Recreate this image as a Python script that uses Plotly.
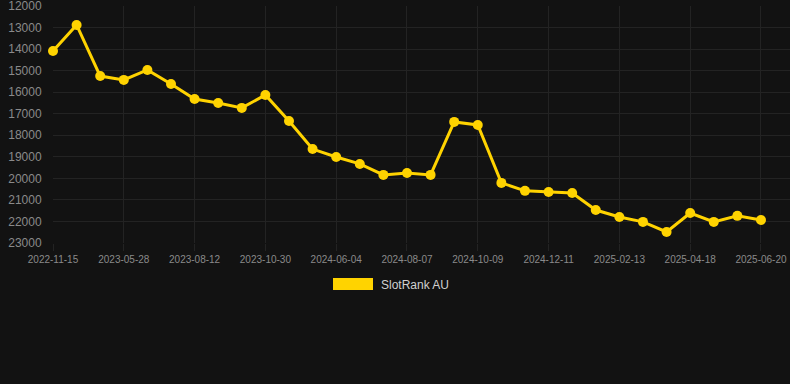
import plotly.graph_objects as go

series_name = "SlotRank AU"
dates = [
    "2022-11-15", "2023-01-20", "2023-03-25",
    "2023-05-28", "2023-06-22", "2023-07-18",
    "2023-08-12", "2023-09-08", "2023-10-04",
    "2023-10-30", "2024-02-10", "2024-04-20",
    "2024-06-04", "2024-06-25", "2024-07-16",
    "2024-08-07", "2024-08-28", "2024-09-18",
    "2024-10-09", "2024-10-30", "2024-11-20",
    "2024-12-11", "2025-01-01", "2025-01-23",
    "2025-02-13", "2025-03-06", "2025-03-28",
    "2025-04-18", "2025-05-09", "2025-05-30",
    "2025-06-20",
]
ranks = [
    14090, 12880, 15250, 15430, 14970, 15620, 16320, 16500, 16730, 16130,
    17340, 18640, 19010, 19330, 19840, 19750, 19840, 17380, 17520, 20210,
    20580, 20630, 20680, 21470, 21790, 22020, 22490, 21610, 22020, 21740,
    21930,
]
tick_dates = dates[::3]
y_ticks = list(range(12000, 23001, 1000))
y_labels = [str(v) for v in y_ticks]

W, H = 790, 384
L, R, T, B = 53, 0, 6, 141
pw, ph = W - L - R, H - T - B

def px(x):
    return (x - L) / pw

def py(y):
    return (H - B - y) / ph

gold = "#FFD300"
fig = go.Figure()
fig.add_trace(go.Scatter(
    x=dates, y=ranks, mode="lines+markers", name=series_name,
    line=dict(color=gold, width=3),
    marker=dict(color=gold, size=10),
    showlegend=False, hoverinfo="skip", cliponaxis=False,
))

fig.update_layout(
    width=W, height=H,
    margin=dict(l=L, r=R, t=T, b=B),
    paper_bgcolor="#121212", plot_bgcolor="#121212",
    font=dict(family="Liberation Sans, Arial, sans-serif", color="#8a8a8a"),
    xaxis=dict(
        type="category", range=[0, 31.23],
        tickmode="array", tickvals=tick_dates, ticktext=tick_dates,
        tickfont=dict(size=10, color="#8a8a8a"),
        showgrid=True, gridcolor="#232323", gridwidth=1,
        ticks="outside", ticklen=7, tickcolor="#232323",
        zeroline=False, showline=False,
    ),
    yaxis=dict(
        range=[23000.5, 11999.5], tickmode="array",
        tickvals=y_ticks, ticktext=y_labels,
        tickfont=dict(size=12, color="#8a8a8a"),
        showgrid=True, gridcolor="#232323", gridwidth=1,
        ticks="outside", ticklen=8, tickcolor="rgba(0,0,0,0)",
        ticklabeloverflow="allow",
        zeroline=False, showline=False,
    ),
    showlegend=False,
    shapes=[dict(
        type="rect", xref="paper", yref="paper",
        x0=px(333), x1=px(373), y0=py(290), y1=py(278),
        fillcolor=gold, line=dict(width=0),
    )],
    annotations=[dict(
        xref="paper", yref="paper", x=px(379), y=py(284.5),
        xanchor="left", yanchor="middle", showarrow=False,
        text=series_name, font=dict(size=12, color="#d0d0d0"),
    )],
)

fig.write_html("out.html")
